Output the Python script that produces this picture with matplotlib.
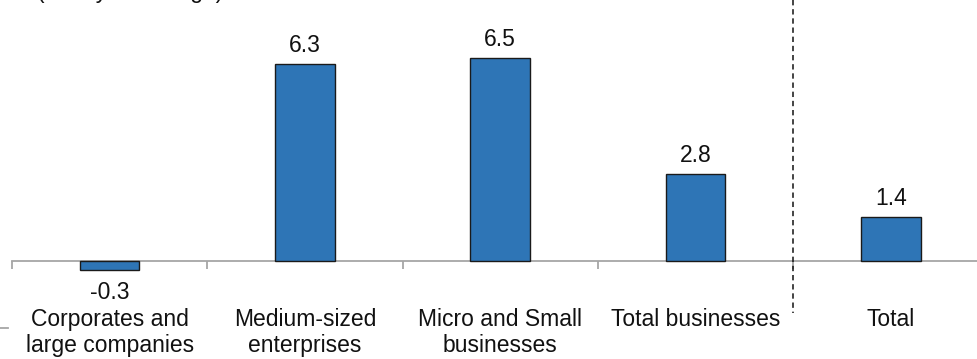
import matplotlib
matplotlib.use("Agg")
import matplotlib.pyplot as plt
from matplotlib.lines import Line2D

plt.rcParams['font.family'] = ['Liberation Sans', 'DejaVu Sans']

categories = ["Corporates and\nlarge companies", "Medium-sized\nenterprises",
              "Micro and Small\nbusinesses", "Total businesses", "Total"]
values = [-0.3, 6.3, 6.5, 2.8, 1.4]
subtitle = "(Yearly % change)"

W, H = 978, 359
fig = plt.figure(figsize=(W / 100, H / 100), dpi=100)

# axes placed so that zero sits ~261 px from the top and categories are ~195 px apart
step = 195.3
ax = fig.add_axes([12 / W, 0, 1 - 12 / W, 1])
px_per_unit = 31.2
ax.set_ylim(-(H - 261) / px_per_unit, 261 / px_per_unit)
ax.set_xlim(-0.5, -0.5 + (W - 12) / step)

bar_color = "#2E75B6"
x = list(range(len(values)))
ax.bar(x, values, width=0.305, color=bar_color, edgecolor="#1a1a1a", linewidth=1.0, zorder=3)

for xi, v in zip(x, values):
    if v >= 0:
        ax.annotate(f"{v:.1f}", (xi, v), xytext=(0, 5), textcoords="offset points",
                    ha="center", va="bottom", fontsize=16.5, color="#111111")
    else:
        ax.annotate(f"{v:.1f}", (xi, v), xytext=(0, -8), textcoords="offset points",
                    ha="center", va="top", fontsize=16.5, color="#111111")

for xi, lab in zip(x, categories):
    ax.text(xi, -1.5, lab, ha="center", va="top", fontsize=16.5, color="#111111",
            linespacing=1.2)

for side in ["top", "right", "left"]:
    ax.spines[side].set_visible(False)
ax.spines["bottom"].set_position(("data", 0))
ax.spines["bottom"].set_color("#a6a6a6")
ax.spines["bottom"].set_linewidth(1.3)
ax.set_yticks([])
ax.set_xticks([-0.5, 0.5, 1.5, 2.5, 3.5])
ax.set_xticklabels([])
ax.tick_params(axis="x", direction="out", length=6, width=1.3, color="#a6a6a6")

# dashed separator between business groups and the overall total
ax.plot([3.5, 3.5], [ax.get_ylim()[1], -1.68], linestyle=(0, (3.5, 2.5)),
        color="#111111", linewidth=1.1, zorder=4)

# subtitle clipped at the top edge
fig.text(37 / W, 1 + 2.5 / H, subtitle, ha="left", va="baseline", fontsize=16.5, color="#111111")

# short stub at the lower left
fig.add_artist(Line2D([0, 8 / W], [1 - 328 / H, 1 - 328 / H], color="#a6a6a6", linewidth=1.3))

fig.savefig("out.png", dpi=100)
